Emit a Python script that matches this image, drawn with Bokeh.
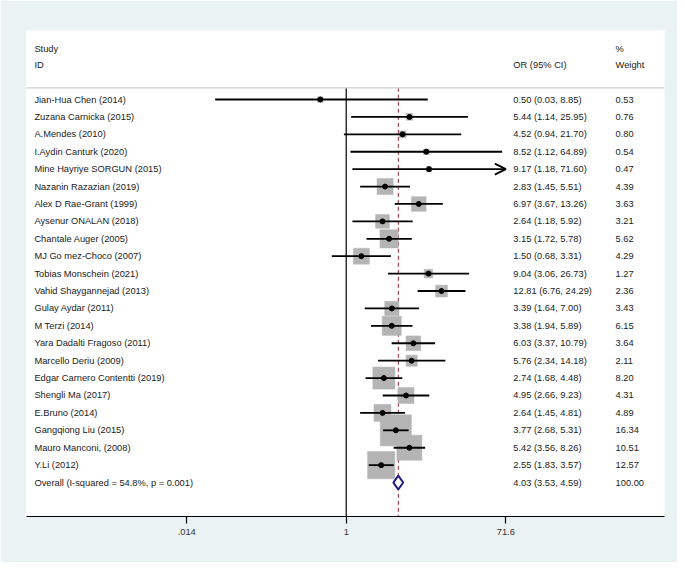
import math
from bokeh.plotting import figure
from bokeh.models import (Range1d, FixedTicker, ColumnDataSource, Arrow, OpenHead, Span)
from bokeh.embed import file_html
from bokeh.resources import INLINE
from bokeh.core.properties import value

studies = ["Jian-Hua Chen (2014)", "Zuzana Carnicka (2015)", "A.Mendes (2010)",
           "I.Aydin Canturk (2020)", "Mine Hayriye SORGUN (2015)", "Nazanin Razazian (2019)",
           "Alex D Rae-Grant (1999)", "Aysenur ONALAN (2018)", "Chantale Auger (2005)",
           "MJ Go mez-Choco (2007)", "Tobias Monschein (2021)", "Vahid Shaygannejad (2013)",
           "Gulay Aydar (2011)", "M Terzi (2014)", "Yara Dadalti Fragoso (2011)",
           "Marcello Deriu (2009)", "Edgar Carnero Contentti (2019)", "Shengli Ma (2017)",
           "E.Bruno (2014)", "Gangqiong Liu (2015)", "Mauro Manconi, (2008)", "Y.Li (2012)"]
odds = [0.50, 5.44, 4.52, 8.52, 9.17, 2.83, 6.97, 2.64, 3.15, 1.50, 9.04, 12.81,
        3.39, 3.38, 6.03, 5.76, 2.74, 4.95, 2.64, 3.77, 5.42, 2.55]
ci_low = [0.03, 1.14, 0.94, 1.12, 1.18, 1.45, 3.67, 1.18, 1.72, 0.68, 3.06, 6.76,
          1.64, 1.94, 3.37, 2.34, 1.68, 2.66, 1.45, 2.68, 3.56, 1.83]
ci_high = [8.85, 25.95, 21.70, 64.89, 71.60, 5.51, 13.26, 5.92, 5.78, 3.31, 26.73, 24.29,
           7.00, 5.89, 10.79, 14.18, 4.48, 9.23, 4.81, 5.31, 8.26, 3.57]
weights = [0.53, 0.76, 0.80, 0.54, 0.47, 4.39, 3.63, 3.21, 5.62, 4.29, 1.27, 2.36,
           3.43, 6.15, 3.64, 2.11, 8.20, 4.31, 4.89, 16.34, 10.51, 12.57]
overall_label = "Overall  (I-squared = 54.8%, p = 0.001)"
overall_or = 4.03
overall_low = 3.53
overall_high = 4.59
overall_weight = 100.00
tick_values = [0.014, 1, 71.6]
tick_labels = [".014", "1", "71.6"]

FONT = "Liberation Sans"
FS = "9.3px"
TXT = "#1a1a1a"

n = len(studies)
rows = list(range(n))
overall_row = n

p = figure(width=677, height=562, x_axis_type="log",
           x_range=Range1d(1.926e-4, 4996.0), y_range=Range1d(23.95, -3.963),
           output_backend="svg", toolbar_location=None,
           min_border_left=26, min_border_right=13, min_border_top=30, min_border_bottom=46)
p.background_fill_color = "white"
p.border_fill_color = "#EAF2F3"
p.outline_line_color = None
p.xgrid.visible = False
p.ygrid.visible = False
p.yaxis.visible = False

ax = p.xaxis[0]
ax.ticker = FixedTicker(ticks=tick_values)
ax.major_label_overrides = {t: l for t, l in zip(tick_values, tick_labels)}
ax.minor_tick_line_color = None
ax.major_tick_out = 7
ax.major_tick_in = 0
ax.axis_line_color = "black"
ax.axis_line_width = 1.2
ax.major_tick_line_color = "black"
ax.major_tick_line_width = 1.2
ax.major_label_text_font = FONT
ax.major_label_text_font_size = FS
ax.major_label_text_color = "#333333"
ax.major_label_standoff = 5

# header rule
p.add_layout(Span(location=-0.67, dimension="width", line_color="#cfcfcf", line_width=1.2))

# null line and overall line
p.segment(x0=[1], y0=[-0.67], x1=[1], y1=[23.95], line_color="black", line_width=1.2)
p.segment(x0=[overall_or], y0=[-0.67], x1=[overall_or], y1=[23.95],
          line_color="#9b2335", line_width=1, line_dash="4 3")

# weight boxes
box_sizes = [7.7 * math.sqrt(w) for w in weights]
src = ColumnDataSource(dict(y=rows, est=odds, lo=ci_low, hi=ci_high, w=weights, s=box_sizes))
p.scatter(x="est", y="y", size="s", marker="square", source=src,
          fill_color="#b4b4b4", line_color="#b4b4b4", line_width=0.5)

# confidence intervals
x_max = tick_values[-1]
for i in rows:
    if ci_high[i] >= x_max:
        p.add_layout(Arrow(end=OpenHead(size=11, line_width=1.8, line_color="black"),
                           x_start=ci_low[i], y_start=i, x_end=ci_high[i], y_end=i,
                           line_width=1.8, line_color="black"))
    else:
        p.segment(x0=[ci_low[i]], y0=[i], x1=[ci_high[i]], y1=[i],
                  line_color="black", line_width=1.8)

p.scatter(x="est", y="y", size=5, marker="circle", source=src,
          fill_color="black", line_color="black")

# overall diamond
dh = 0.4
p.patch(x=[overall_low, overall_or, overall_high, overall_or],
        y=[overall_row, overall_row - dh, overall_row, overall_row + dh],
        fill_color="white", line_color="#1c1c84", line_width=2)

# text columns
x_label = 2.38e-4
x_or = 87.5
x_wt = 1350.0
labels = studies + [overall_label]
or_txt = [f"{o:.2f} ({l:.2f}, {h:.2f})" for o, l, h in zip(odds, ci_low, ci_high)]
or_txt.append(f"{overall_or:.2f} ({overall_low:.2f}, {overall_high:.2f})")
wt_txt = [f"{w:.2f}" for w in weights] + [f"{overall_weight:.2f}"]
all_rows = rows + [overall_row]

common = dict(text_font=value(FONT), text_font_size=FS, text_color=TXT,
              text_baseline="middle", text_align="left")
p.text(x=[x_label] * len(all_rows), y=all_rows, text=labels, **common)
p.text(x=[x_or] * len(all_rows), y=all_rows, text=or_txt, **common)
p.text(x=[x_wt] * len(all_rows), y=all_rows, text=wt_txt, **common)

# headers
p.text(x=[x_label, x_label], y=[-2.91, -1.99], text=["Study", "ID"], **common)
p.text(x=[x_or], y=[-1.99], text=["OR (95% CI)"], **common)
p.text(x=[x_wt, x_wt], y=[-2.91, -1.99], text=["%", "Weight"], **common)

open("out.html", "w").write(file_html(p, INLINE))
